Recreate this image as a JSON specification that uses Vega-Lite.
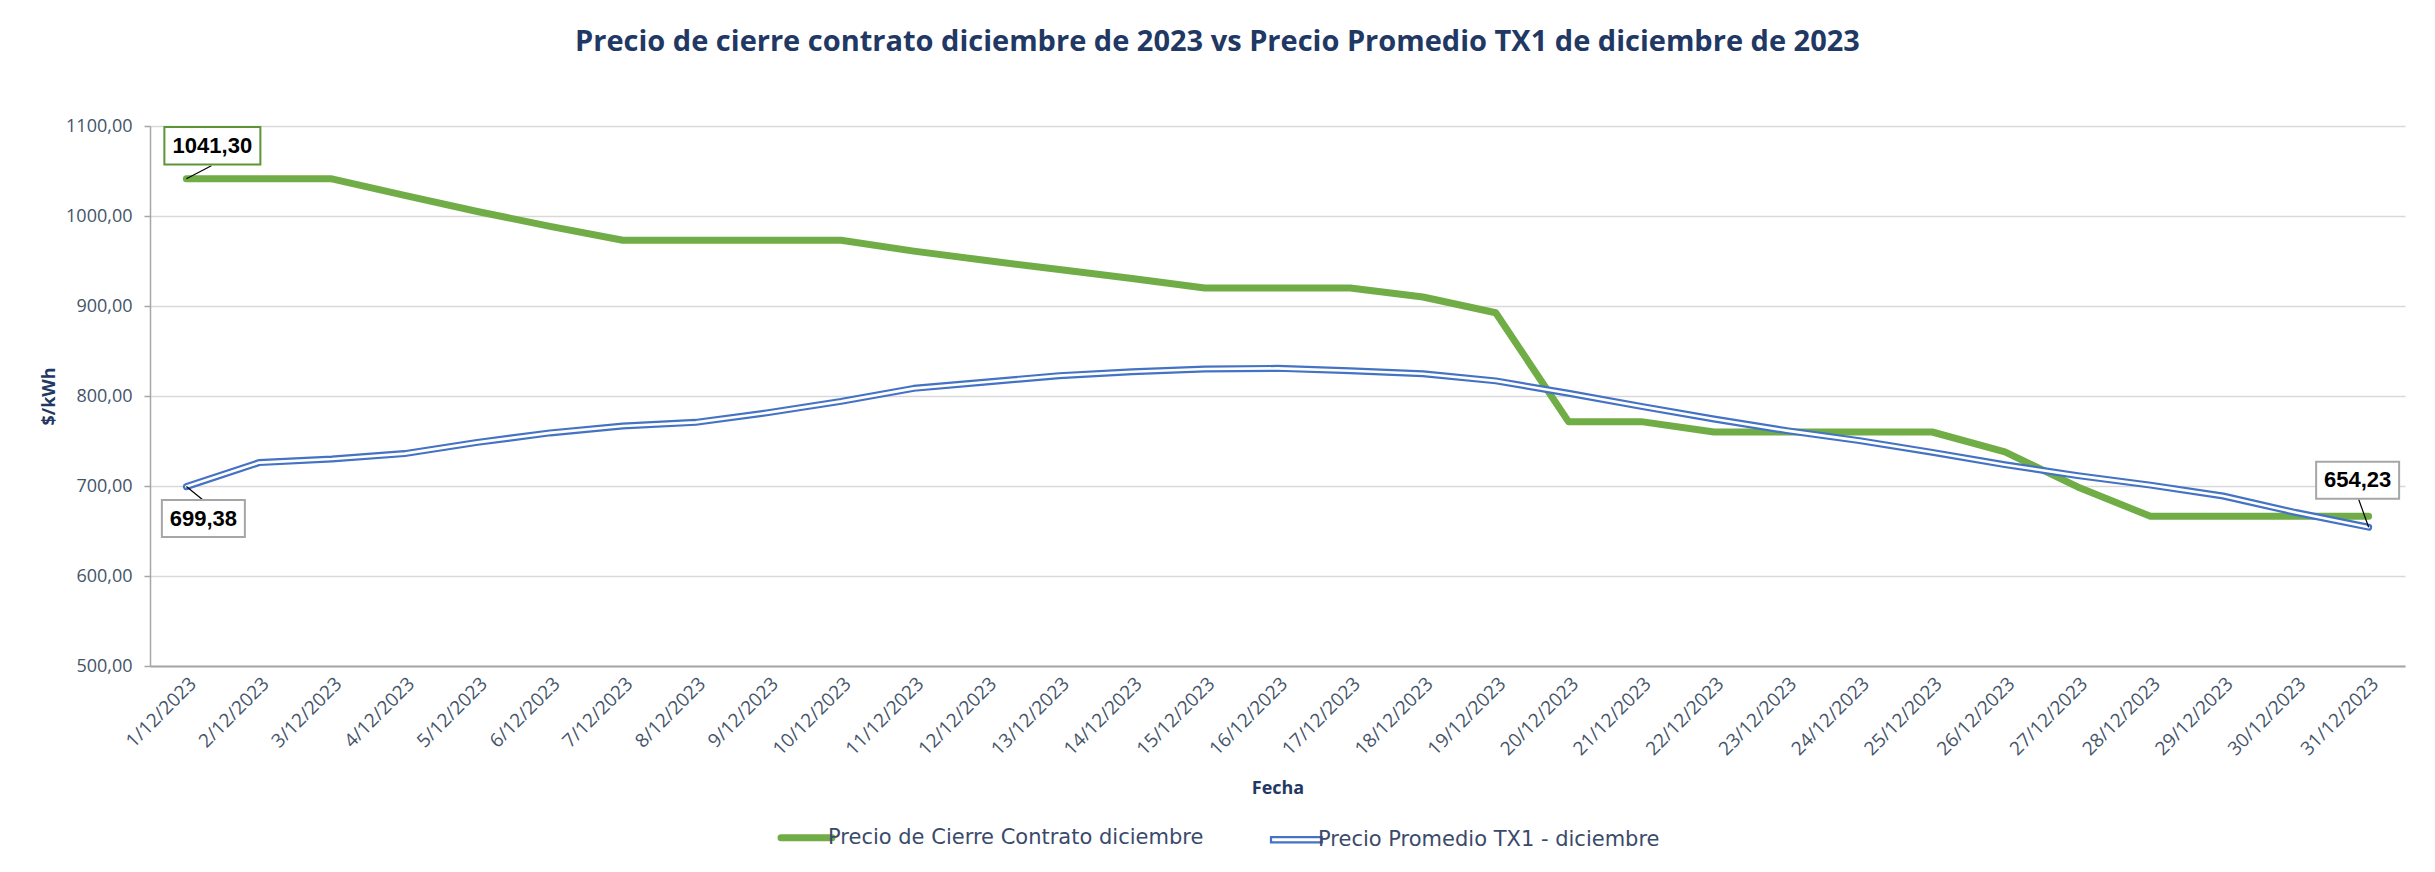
{
  "$schema": "https://vega.github.io/schema/vega-lite/v6.json",
  "autosize": {"type": "none"},
  "padding": {"left": 150, "top": 126, "right": 30, "bottom": 206},
  "width": 2255,
  "height": 540,
  "background": "#ffffff",
  "config": {
    "view": {"stroke": null},
    "font": "Open Sans",
    "locale": {"number": {"decimal": ",", "thousands": ".", "grouping": [3], "currency": ["$", ""]}}
  },
  "title": {
    "text": "Precio de cierre contrato diciembre de 2023 vs Precio Promedio TX1 de diciembre de 2023",
    "font": "Open Sans",
    "fontSize": 29,
    "fontWeight": "bold",
    "color": "#1F3864",
    "anchor": "middle",
    "frame": "group",
    "dx": -60,
    "offset": 60
  },
  "data": {"values": [
    {"fecha": "1/12/2023", "serie": "Precio de Cierre Contrato diciembre", "valor": 1041.30},
    {"fecha": "1/12/2023", "serie": "Precio Promedio TX1 - diciembre", "valor": 699.38},
    {"fecha": "2/12/2023", "serie": "Precio de Cierre Contrato diciembre", "valor": 1041.30},
    {"fecha": "2/12/2023", "serie": "Precio Promedio TX1 - diciembre", "valor": 726.0},
    {"fecha": "3/12/2023", "serie": "Precio de Cierre Contrato diciembre", "valor": 1041.30},
    {"fecha": "3/12/2023", "serie": "Precio Promedio TX1 - diciembre", "valor": 730.0},
    {"fecha": "4/12/2023", "serie": "Precio de Cierre Contrato diciembre", "valor": 1023.0},
    {"fecha": "4/12/2023", "serie": "Precio Promedio TX1 - diciembre", "valor": 736.0},
    {"fecha": "5/12/2023", "serie": "Precio de Cierre Contrato diciembre", "valor": 1005.0},
    {"fecha": "5/12/2023", "serie": "Precio Promedio TX1 - diciembre", "valor": 748.5},
    {"fecha": "6/12/2023", "serie": "Precio de Cierre Contrato diciembre", "valor": 988.5},
    {"fecha": "6/12/2023", "serie": "Precio Promedio TX1 - diciembre", "valor": 759.0},
    {"fecha": "7/12/2023", "serie": "Precio de Cierre Contrato diciembre", "valor": 973.0},
    {"fecha": "7/12/2023", "serie": "Precio Promedio TX1 - diciembre", "valor": 766.7},
    {"fecha": "8/12/2023", "serie": "Precio de Cierre Contrato diciembre", "valor": 973.0},
    {"fecha": "8/12/2023", "serie": "Precio Promedio TX1 - diciembre", "valor": 770.7},
    {"fecha": "9/12/2023", "serie": "Precio de Cierre Contrato diciembre", "valor": 973.0},
    {"fecha": "9/12/2023", "serie": "Precio Promedio TX1 - diciembre", "valor": 781.5},
    {"fecha": "10/12/2023", "serie": "Precio de Cierre Contrato diciembre", "valor": 973.0},
    {"fecha": "10/12/2023", "serie": "Precio Promedio TX1 - diciembre", "valor": 794.0},
    {"fecha": "11/12/2023", "serie": "Precio de Cierre Contrato diciembre", "valor": 961.0},
    {"fecha": "11/12/2023", "serie": "Precio Promedio TX1 - diciembre", "valor": 808.5},
    {"fecha": "12/12/2023", "serie": "Precio de Cierre Contrato diciembre", "valor": 950.5},
    {"fecha": "12/12/2023", "serie": "Precio Promedio TX1 - diciembre", "valor": 815.6},
    {"fecha": "13/12/2023", "serie": "Precio de Cierre Contrato diciembre", "valor": 940.5},
    {"fecha": "13/12/2023", "serie": "Precio Promedio TX1 - diciembre", "valor": 822.6},
    {"fecha": "14/12/2023", "serie": "Precio de Cierre Contrato diciembre", "valor": 930.5},
    {"fecha": "14/12/2023", "serie": "Precio Promedio TX1 - diciembre", "valor": 827.0},
    {"fecha": "15/12/2023", "serie": "Precio de Cierre Contrato diciembre", "valor": 920.0},
    {"fecha": "15/12/2023", "serie": "Precio Promedio TX1 - diciembre", "valor": 830.0},
    {"fecha": "16/12/2023", "serie": "Precio de Cierre Contrato diciembre", "valor": 920.0},
    {"fecha": "16/12/2023", "serie": "Precio Promedio TX1 - diciembre", "valor": 830.7},
    {"fecha": "17/12/2023", "serie": "Precio de Cierre Contrato diciembre", "valor": 920.0},
    {"fecha": "17/12/2023", "serie": "Precio Promedio TX1 - diciembre", "valor": 828.0},
    {"fecha": "18/12/2023", "serie": "Precio de Cierre Contrato diciembre", "valor": 910.0},
    {"fecha": "18/12/2023", "serie": "Precio Promedio TX1 - diciembre", "valor": 824.8},
    {"fecha": "19/12/2023", "serie": "Precio de Cierre Contrato diciembre", "valor": 892.5},
    {"fecha": "19/12/2023", "serie": "Precio Promedio TX1 - diciembre", "valor": 816.8},
    {"fecha": "20/12/2023", "serie": "Precio de Cierre Contrato diciembre", "valor": 771.5},
    {"fecha": "20/12/2023", "serie": "Precio Promedio TX1 - diciembre", "valor": 803.0},
    {"fecha": "21/12/2023", "serie": "Precio de Cierre Contrato diciembre", "valor": 771.5},
    {"fecha": "21/12/2023", "serie": "Precio Promedio TX1 - diciembre", "valor": 788.5},
    {"fecha": "22/12/2023", "serie": "Precio de Cierre Contrato diciembre", "valor": 760.0},
    {"fecha": "22/12/2023", "serie": "Precio Promedio TX1 - diciembre", "valor": 774.4},
    {"fecha": "23/12/2023", "serie": "Precio de Cierre Contrato diciembre", "valor": 760.0},
    {"fecha": "23/12/2023", "serie": "Precio Promedio TX1 - diciembre", "valor": 761.5},
    {"fecha": "24/12/2023", "serie": "Precio de Cierre Contrato diciembre", "valor": 760.0},
    {"fecha": "24/12/2023", "serie": "Precio Promedio TX1 - diciembre", "valor": 750.4},
    {"fecha": "25/12/2023", "serie": "Precio de Cierre Contrato diciembre", "valor": 760.0},
    {"fecha": "25/12/2023", "serie": "Precio Promedio TX1 - diciembre", "valor": 737.4},
    {"fecha": "26/12/2023", "serie": "Precio de Cierre Contrato diciembre", "valor": 738.0},
    {"fecha": "26/12/2023", "serie": "Precio Promedio TX1 - diciembre", "valor": 723.7},
    {"fecha": "27/12/2023", "serie": "Precio de Cierre Contrato diciembre", "valor": 699.0},
    {"fecha": "27/12/2023", "serie": "Precio Promedio TX1 - diciembre", "valor": 711.5},
    {"fecha": "28/12/2023", "serie": "Precio de Cierre Contrato diciembre", "valor": 666.3},
    {"fecha": "28/12/2023", "serie": "Precio Promedio TX1 - diciembre", "valor": 701.0},
    {"fecha": "29/12/2023", "serie": "Precio de Cierre Contrato diciembre", "valor": 666.3},
    {"fecha": "29/12/2023", "serie": "Precio Promedio TX1 - diciembre", "valor": 688.9},
    {"fecha": "30/12/2023", "serie": "Precio de Cierre Contrato diciembre", "valor": 666.3},
    {"fecha": "30/12/2023", "serie": "Precio Promedio TX1 - diciembre", "valor": 670.5},
    {"fecha": "31/12/2023", "serie": "Precio de Cierre Contrato diciembre", "valor": 666.3},
    {"fecha": "31/12/2023", "serie": "Precio Promedio TX1 - diciembre", "valor": 654.23}
  ]},
  "encoding": {
    "x": {
      "field": "fecha", "type": "ordinal", "sort": null,
      "scale": {"type": "point", "padding": 0.5},
      "axis": {
        "title": "Fecha",
        "titleFont": "Open Sans", "titleFontSize": 18, "titleFontWeight": "bold", "titleColor": "#1F3864",
        "titlePadding": 21,
        "labelAngle": -45, "labelFont": "Open Sans", "labelFontSize": 19, "labelColor": "#44546A",
        "labelPadding": 8, "ticks": false, "tickSize": 0,
        "domainColor": "#A6A6A6", "domainWidth": 2, "grid": false
      }
    },
    "y": {
      "field": "valor", "type": "quantitative",
      "scale": {"domain": [500, 1100], "nice": false, "zero": false},
      "axis": {
        "title": "$/kWh",
        "titleFont": "Open Sans", "titleFontSize": 18, "titleFontWeight": "bold", "titleColor": "#1F3864",
        "titlePadding": 7,
        "values": [500, 600, 700, 800, 900, 1000, 1100],
        "format": ".2f",
        "labelFont": "Open Sans", "labelFontSize": 18, "labelColor": "#44546A", "labelPadding": 12,
        "tickSize": 6, "tickColor": "#A6A6A6", "tickWidth": 1.5,
        "domainColor": "#A6A6A6", "domainWidth": 1.5,
        "grid": true, "gridColor": "#D9D9D9", "gridWidth": 1.5
      }
    }
  },
  "layer": [
    {
      "transform": [{"filter": "datum.serie === 'Precio de Cierre Contrato diciembre'"}],
      "mark": {"type": "line", "strokeWidth": 7, "strokeCap": "round", "strokeJoin": "round"},
      "encoding": {
        "color": {
          "field": "serie", "type": "nominal",
          "scale": {"domain": ["Precio de Cierre Contrato diciembre", "Precio Promedio TX1 - diciembre"], "range": ["#70AD47", "#4472C4"]},
          "legend": {
            "orient": "none", "legendX": 646, "legendY": 701, "direction": "horizontal",
            "title": null, "padding": 0,
            "labelFont": "DejaVu Sans", "labelFontSize": 21, "labelColor": "#3A4A6B", "labelLimit": 0,
            "labelOffset": 11, "columnPadding": 62,
            "symbolType": "stroke", "symbolSize": 2600, "symbolStrokeWidth": 7,
            "encode": {
              "symbols": {
                "update": {
                  "shape": {"signal": "datum.value === 'Precio Promedio TX1 - diciembre' ? 'M-1,-0.1H1V0.1H-1Z' : 'stroke'"},
                  "fill": {"signal": "datum.value === 'Precio Promedio TX1 - diciembre' ? '#ffffff' : 'transparent'"},
                  "strokeWidth": {"signal": "datum.value === 'Precio Promedio TX1 - diciembre' ? 2.2 : 7"},
                  "strokeCap": {"value": "round"}
                }
              }
            }
          }
        }
      }
    },
    {
      "transform": [{"filter": "datum.serie === 'Precio Promedio TX1 - diciembre'"}],
      "mark": {"type": "line", "strokeWidth": 7, "strokeCap": "round", "strokeJoin": "round"},
      "encoding": {
        "color": {"field": "serie", "type": "nominal"}
      }
    },
    {
      "transform": [{"filter": "datum.serie === 'Precio Promedio TX1 - diciembre'"}],
      "mark": {"type": "line", "strokeWidth": 2.6, "strokeCap": "round", "strokeJoin": "round", "color": "#ffffff"},
      "encoding": {}
    },
    {
      "transform": [{"filter": "datum.fecha === '1/12/2023' && datum.serie === 'Precio de Cierre Contrato diciembre'"}],
      "layer": [
        {"mark": {"type": "rule", "color": "#000000", "strokeWidth": 1.2, "x2Offset": 25, "y2Offset": -13},
         "encoding": {"x2": {"field": "fecha"}, "y2": {"field": "valor"}}},
        {"mark": {"type": "point", "shape": "M-1,-0.39H1V0.39H-1Z", "size": 9216, "filled": true, "fill": "#ffffff", "stroke": "#5E9438", "strokeWidth": 2, "opacity": 1, "xOffset": 26, "yOffset": -33}},
        {"mark": {"type": "text", "font": "Liberation Sans", "fontSize": 22, "fontWeight": "bold", "color": "#000000", "dx": 26, "dy": -33, "align": "center", "baseline": "middle"},
         "encoding": {"text": {"field": "valor", "type": "quantitative", "format": ".2f"}}}
      ]
    },
    {
      "transform": [{"filter": "datum.fecha === '1/12/2023' && datum.serie === 'Precio Promedio TX1 - diciembre'"}],
      "layer": [
        {"mark": {"type": "rule", "color": "#000000", "strokeWidth": 1.2, "x2Offset": 16, "y2Offset": 13},
         "encoding": {"x2": {"field": "fecha"}, "y2": {"field": "valor"}}},
        {"mark": {"type": "point", "shape": "M-1,-0.446H1V0.446H-1Z", "size": 6889, "filled": true, "fill": "#ffffff", "stroke": "#A6A6A6", "strokeWidth": 2, "opacity": 1, "xOffset": 17, "yOffset": 32}},
        {"mark": {"type": "text", "font": "Liberation Sans", "fontSize": 22, "fontWeight": "bold", "color": "#000000", "dx": 17, "dy": 32, "align": "center", "baseline": "middle"},
         "encoding": {"text": {"field": "valor", "type": "quantitative", "format": ".2f"}}}
      ]
    },
    {
      "transform": [{"filter": "datum.fecha === '31/12/2023' && datum.serie === 'Precio Promedio TX1 - diciembre'"}],
      "layer": [
        {"mark": {"type": "rule", "color": "#000000", "strokeWidth": 1.2, "x2Offset": -10, "y2Offset": -28},
         "encoding": {"x2": {"field": "fecha"}, "y2": {"field": "valor"}}},
        {"mark": {"type": "point", "shape": "M-1,-0.446H1V0.446H-1Z", "size": 6889, "filled": true, "fill": "#ffffff", "stroke": "#A6A6A6", "strokeWidth": 2, "opacity": 1, "xOffset": -11, "yOffset": -47}},
        {"mark": {"type": "text", "font": "Liberation Sans", "fontSize": 22, "fontWeight": "bold", "color": "#000000", "dx": -11, "dy": -47, "align": "center", "baseline": "middle"},
         "encoding": {"text": {"field": "valor", "type": "quantitative", "format": ".2f"}}}
      ]
    }
  ]
}
